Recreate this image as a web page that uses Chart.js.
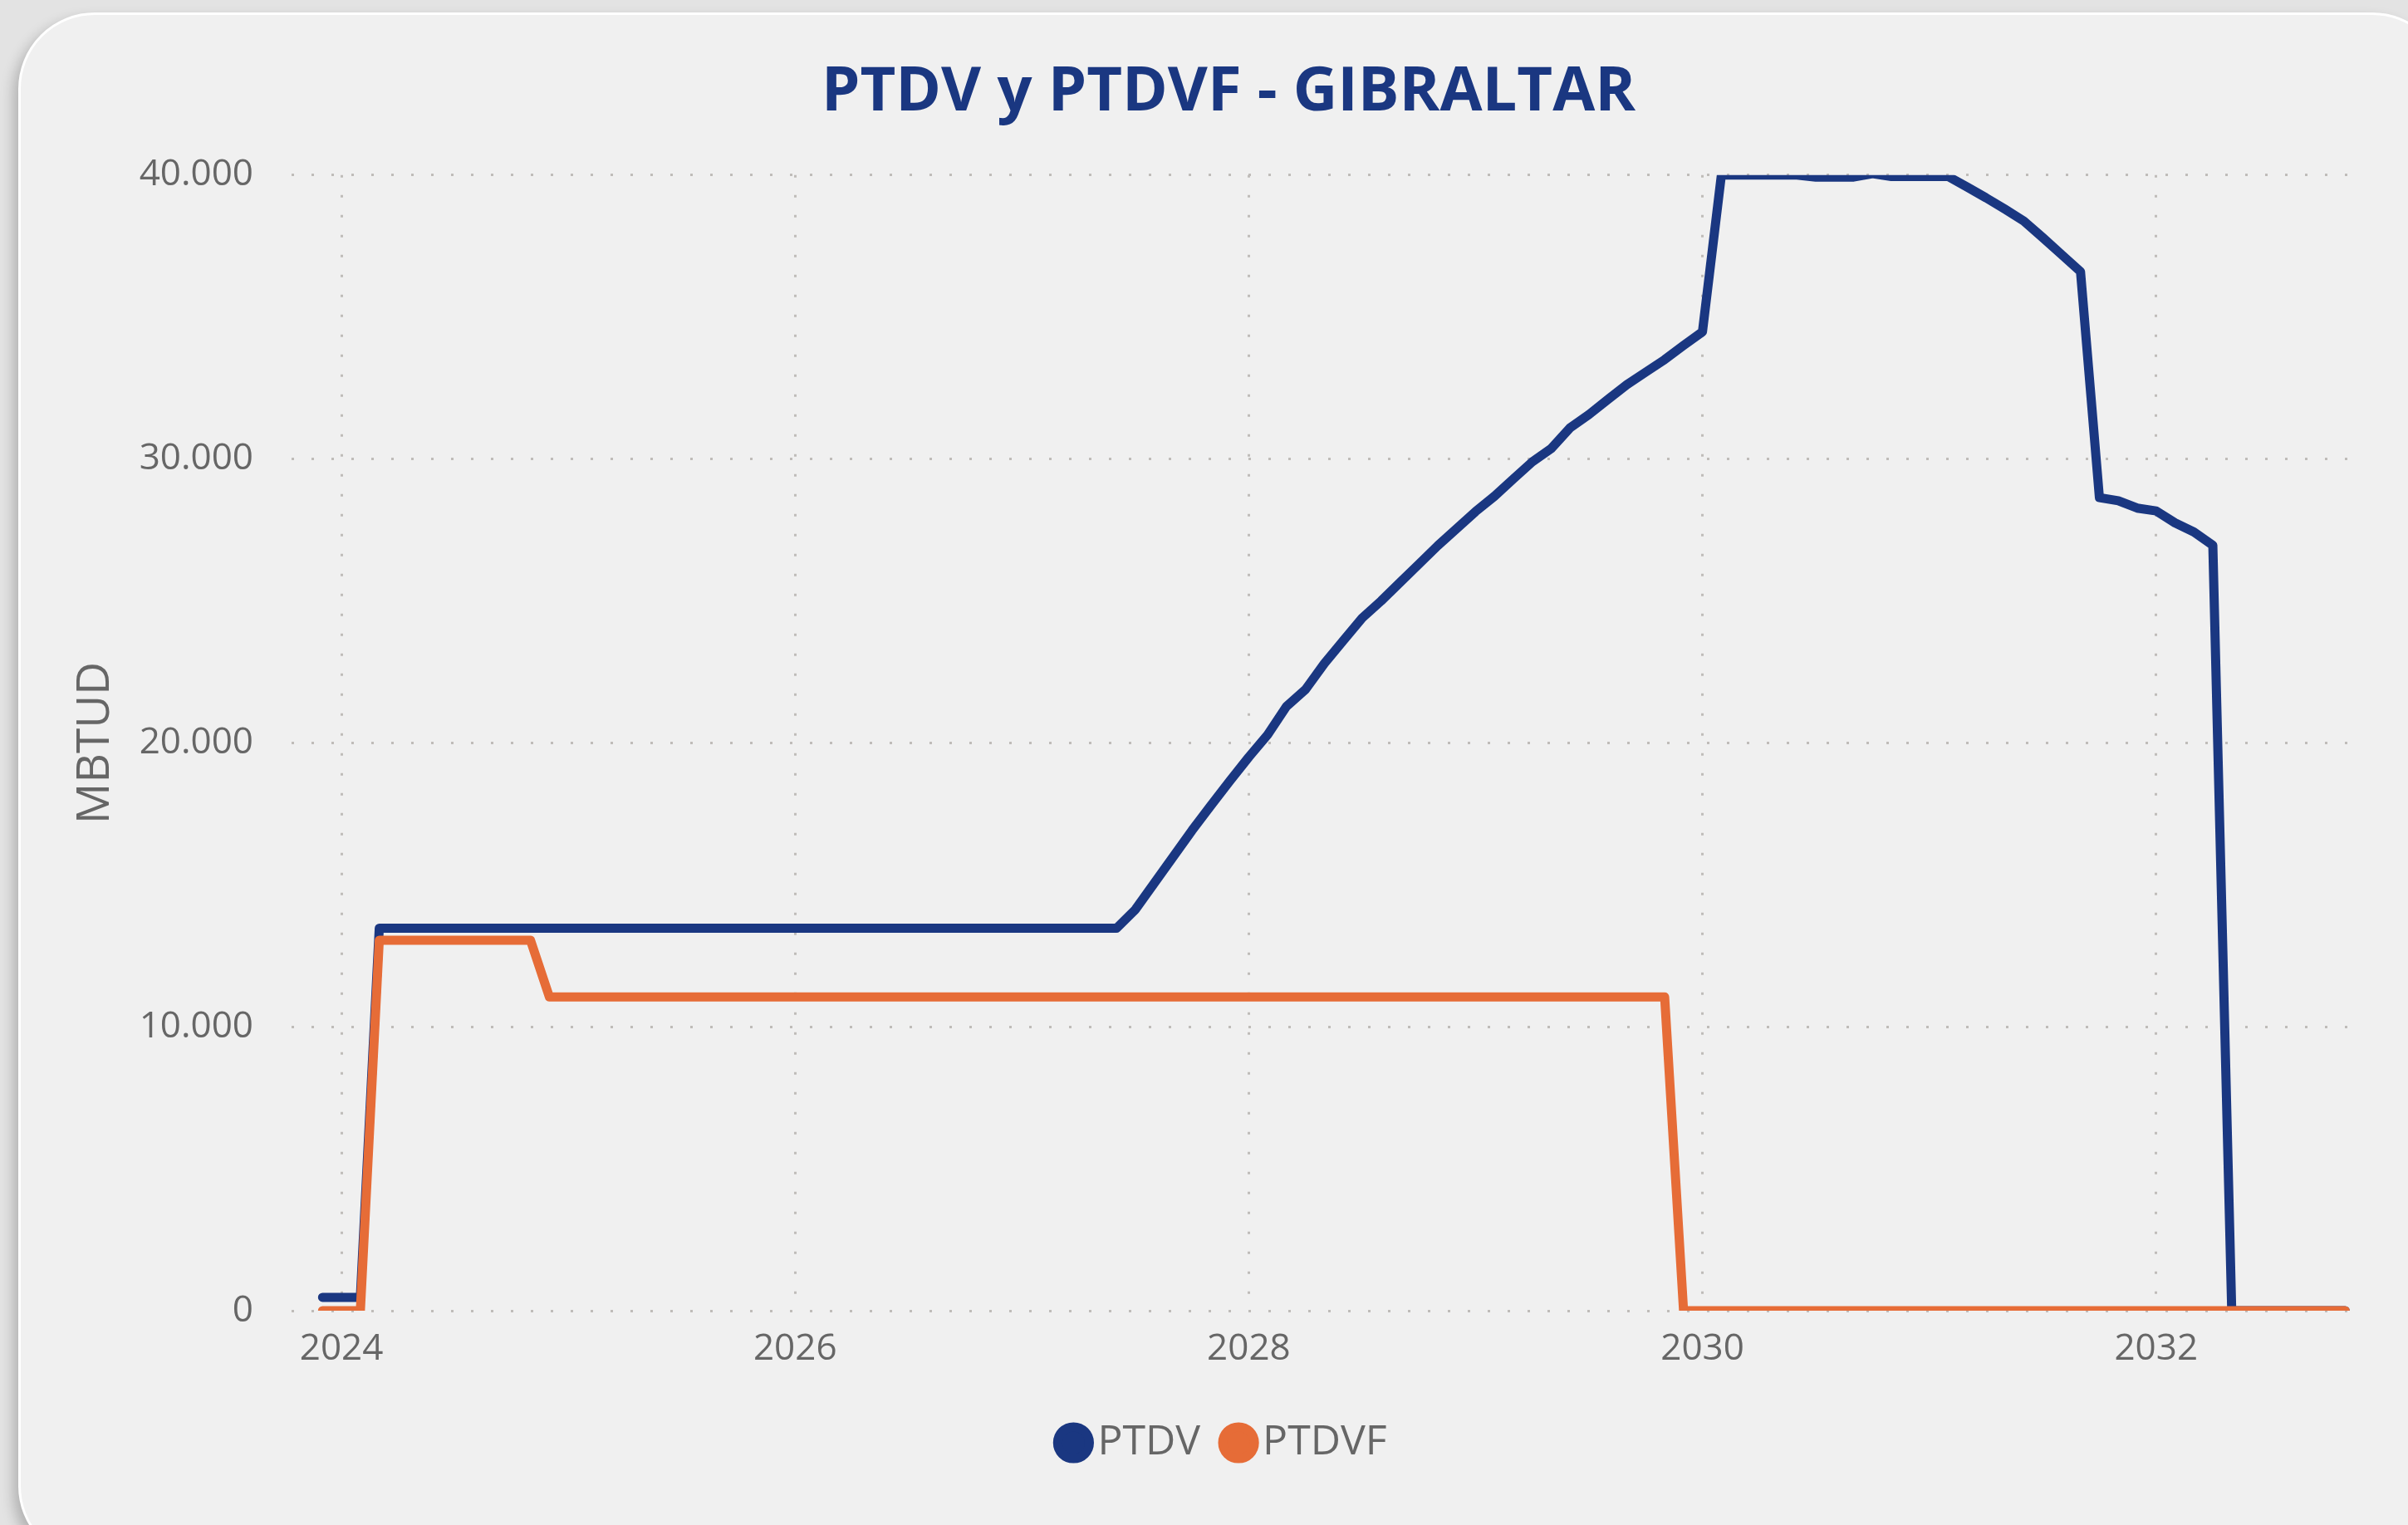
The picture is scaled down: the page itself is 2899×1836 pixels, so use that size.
<!DOCTYPE html>
<html lang="es">
<head>
<meta charset="UTF-8">
<title>PTDV y PTDVF - GIBRALTAR</title>
<script src="https://cdn.jsdelivr.net/npm/chart.js"></script>
<style>
    html, body {
        margin: 0;
        padding: 0;
        width: 2899px;
        height: 1836px;
        overflow: hidden;
        background: #e3e3e3;
        font-family: "Open Sans", sans-serif;
    }

    .card {
        position: absolute;
        left: 22px;
        top: 15px;
        width: 2920px;
        height: 1860px;
        background: #f0f0f0;
        border: 3px solid #ffffff;
        border-radius: 92px;
        box-shadow: -6px 8px 16px rgba(0, 0, 0, 0.22);
    }

    .chart-box {
        position: absolute;
        left: 0;
        top: 0;
        width: 2899px;
        height: 1836px;
    }
</style>
</head>
<body>
<div class="card"></div>
<div class="chart-box">
    <canvas id="ptdvChart"></canvas>
</div>

<script>
    // monthly series, first point = December 2023
    const startYear = 2023;
    const startMonth = 12;

    const ptdv = [
        470, 470, 470,
        13470, 13470, 13470, 13470, 13470, 13470, 13470, 13470, 13470, 13470,
        13470, 13470, 13470, 13470, 13470, 13470, 13470, 13470, 13470, 13470,
        13470, 13470, 13470, 13470, 13470, 13470, 13470, 13470, 13470, 13470,
        13470, 13470, 13470, 13470, 13470, 13470, 13470, 13470, 13470, 13470,
        14130, 15060, 15990, 16920, 17800, 18660, 19500, 20290, 21290, 21880,
        22800, 23600, 24400, 25000, 25650, 26300, 26950, 27550, 28150, 28690,
        29300, 29900, 30370, 31100, 31570, 32100, 32620, 33060, 33500, 34000,
        34480,
        40000, 40000, 40000, 40000, 40000,
        39930, 39930, 39930, 40050,
        39950, 39950, 39950, 39950,
        39580, 39200, 38800, 38380, 37800, 37200, 36600,
        28640, 28530, 28270, 28170, 27750, 27430, 26960,
        0, 0, 0, 0, 0, 0, 0
    ];

    const ptdvf = [
        0, 0, 0,
        13050, 13050, 13050, 13050, 13050, 13050, 13050, 13050, 13050,
        11050, 11050, 11050, 11050, 11050, 11050, 11050, 11050, 11050, 11050,
        11050, 11050, 11050, 11050, 11050, 11050, 11050, 11050, 11050, 11050,
        11050, 11050, 11050, 11050, 11050, 11050, 11050, 11050, 11050, 11050,
        11050, 11050, 11050, 11050, 11050, 11050, 11050, 11050, 11050, 11050,
        11050, 11050, 11050, 11050, 11050, 11050, 11050, 11050, 11050, 11050,
        11050, 11050, 11050, 11050, 11050, 11050, 11050, 11050, 11050, 11050,
        0, 0, 0, 0, 0, 0, 0, 0, 0, 0, 0, 0,
        0, 0, 0, 0, 0, 0, 0, 0, 0, 0, 0, 0,
        0, 0, 0, 0, 0, 0, 0, 0, 0, 0, 0, 0
    ];

    const yearTicks = [2024, 2026, 2028, 2030, 2032];
    const valueTicks = [0, 10000, 20000, 30000, 40000];
    const seriesNames = ['PTDV', 'PTDVF'];
    const seriesColors = ['#1a3781', '#e66c37'];

    // decimal year of each monthly point
    const monthX = ptdv.map((_, i) => startYear + (startMonth - 1 + i) / 12);

    // 40000 -> "40.000"
    function formatThousands(v) {
        return String(v).replace(/\B(?=(\d{3})+(?!\d))/g, '.');
    }

    const gridStyle = {
        color: '#bfbcb9',
        lineWidth: 3,
        drawTicks: false
    };

    const tickFont = { family: 'Open Sans', size: 44 };

    function makeDataset(idx, values, order) {
        return {
            label: seriesNames[idx],
            data: monthX.map((x, i) => ({ x: x, y: values[i] })),
            borderColor: seriesColors[idx],
            backgroundColor: seriesColors[idx],
            borderWidth: 11,
            borderJoinStyle: 'round',
            borderCapStyle: 'round',
            pointRadius: 0,
            tension: 0,
            order: order
        };
    }

    const ctx = document.getElementById('ptdvChart').getContext('2d');
    new Chart(ctx, {
        type: 'line',
        data: {
            datasets: [
                makeDataset(0, ptdv, 1),
                makeDataset(1, ptdvf, 0)
            ]
        },
        options: {
            responsive: true,
            maintainAspectRatio: false,
            animation: false,
            layout: {
                padding: { left: 111, right: 52, top: 0, bottom: 64 }
            },
            plugins: {
                title: {
                    display: true,
                    text: 'PTDV y PTDVF - GIBRALTAR',
                    color: '#1a3781',
                    font: { family: 'Open Sans', size: 74, weight: 'bold' },
                    padding: { top: 68, bottom: 54 }
                },
                legend: {
                    position: 'bottom',
                    labels: {
                        usePointStyle: true,
                        pointStyle: 'circle',
                        boxWidth: 8,
                        boxHeight: 27,
                        color: '#666666',
                        font: { family: 'Open Sans', size: 50 },
                        padding: 42,
                        sort: (a, b) => a.datasetIndex - b.datasetIndex
                    }
                },
                tooltip: { enabled: false }
            },
            scales: {
                x: {
                    type: 'linear',
                    min: 2023.78,
                    max: 2032.92,
                    afterBuildTicks: scale => {
                        scale.ticks = yearTicks.map(v => ({ value: v }));
                    },
                    afterFit: scale => {
                        scale.height = 92;
                    },
                    ticks: {
                        callback: v => String(v),
                        color: '#666666',
                        font: tickFont,
                        padding: 20,
                        maxRotation: 0
                    },
                    grid: gridStyle,
                    border: { display: false, dash: [3, 21] }
                },
                y: {
                    min: 0,
                    max: 40000,
                    afterBuildTicks: scale => {
                        scale.ticks = valueTicks.map(v => ({ value: v }));
                    },
                    afterFit: scale => {
                        scale.width = 240;
                    },
                    ticks: {
                        callback: v => formatThousands(v),
                        color: '#666666',
                        font: tickFont,
                        padding: 46
                    },
                    grid: gridStyle,
                    border: { display: false, dash: [3, 21] },
                    title: {
                        display: true,
                        text: 'MBTUD',
                        color: '#666666',
                        font: { family: 'Open Sans', size: 55 },
                        padding: { top: -29, bottom: 0 }
                    }
                }
            }
        }
    });
</script>
</body>
</html>
